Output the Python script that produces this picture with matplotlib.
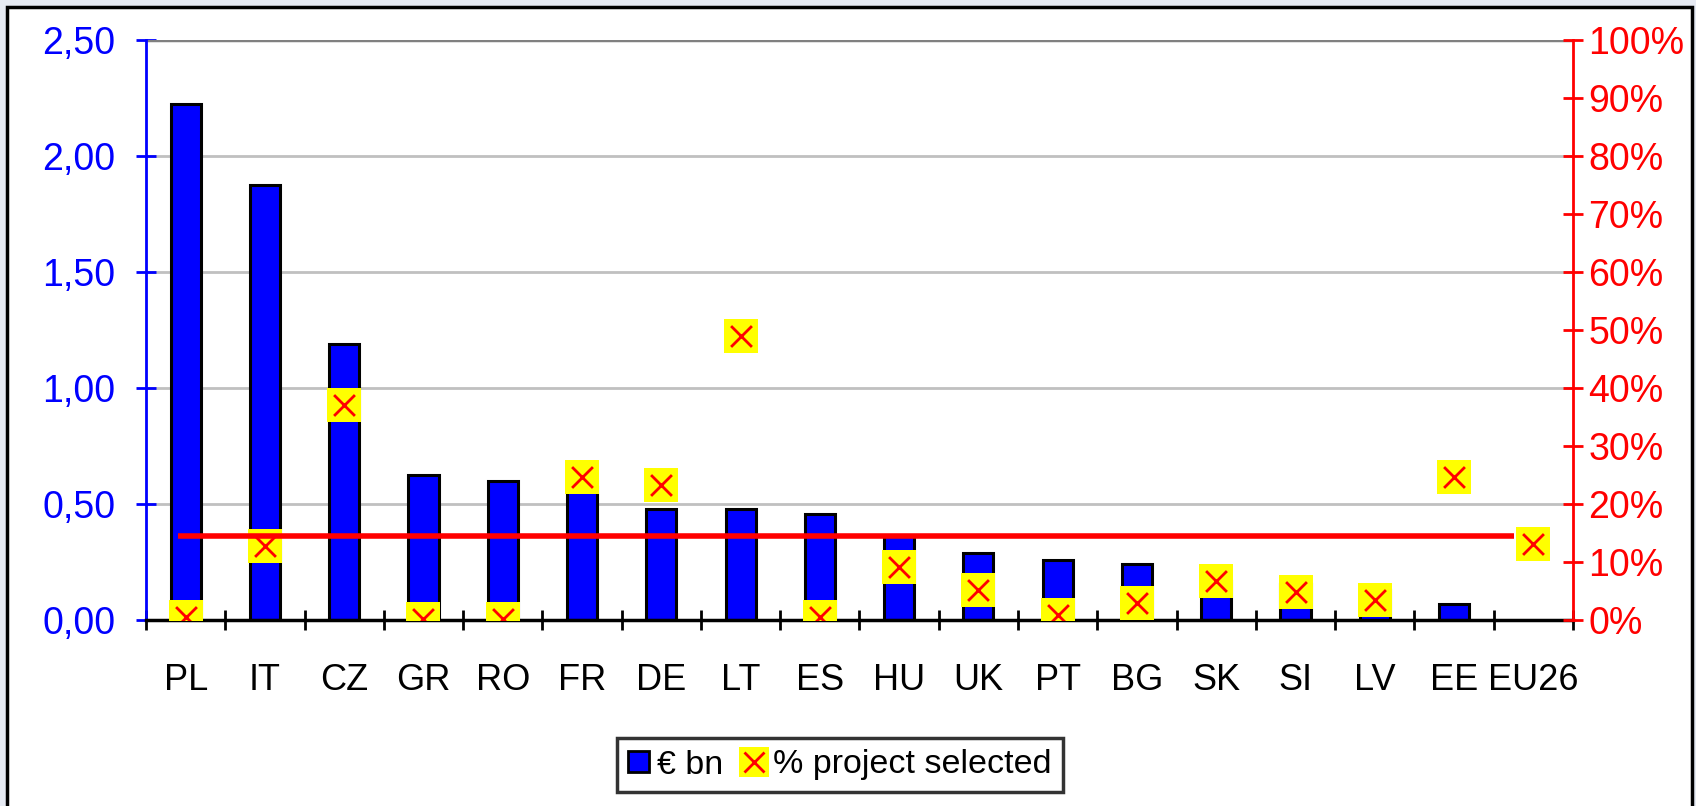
import numpy as np
import matplotlib
matplotlib.use("Agg")
import matplotlib.pyplot as plt
from matplotlib.patches import Rectangle
from matplotlib.legend_handler import HandlerTuple
from matplotlib.lines import Line2D
from matplotlib.ticker import FuncFormatter, MultipleLocator

plt.rcParams['font.family'] = ['Liberation Sans', 'DejaVu Sans']

countries = ['PL', 'IT', 'CZ', 'GR', 'RO', 'FR', 'DE', 'LT', 'ES', 'HU',
             'UK', 'PT', 'BG', 'SK', 'SI', 'LV', 'EE', 'EU26']
eur_bn = [2.225, 1.875, 1.19, 0.625, 0.60, 0.575, 0.48, 0.48, 0.455, 0.36,
          0.29, 0.26, 0.24, 0.17, 0.155, 0.13, 0.07, np.nan]
pct_selected = [0.5, 12.7, 37.0, 0.2, 0.2, 24.6, 23.3, 48.9, 0.6, 9.1,
                5.2, 0.9, 3.0, 6.7, 4.9, 3.4, 24.6, 13.1]
eu_average = 14.4  # red reference line, % axis

x = np.arange(len(countries))

fig = plt.figure(figsize=(16.96, 8.06), dpi=100, facecolor='#E6EAF3')
frame = Rectangle((7 / 1696, -0.05), 1685 / 1696, 1 - 7 / 806 + 0.05,
                  transform=fig.transFigure, facecolor='white',
                  edgecolor='black', linewidth=2.5, zorder=-10)
fig.patches.append(frame)

ax = fig.add_axes([146 / 1696, 1 - 620 / 806, 1427 / 1696, 580 / 806])
ax.set_facecolor('white')
ax2 = ax.twinx()

ax.bar(x, eur_bn, width=0.38, color='#0000FF', edgecolor='black', linewidth=2.2, zorder=3)
ax.set_ylim(0, 2.5)
ax.set_xlim(-0.5, len(countries) - 0.5)
ax.yaxis.set_major_locator(MultipleLocator(0.5))
ax.yaxis.set_major_formatter(FuncFormatter(lambda v, p: f"{v:.2f}".replace('.', ',')))
ax.grid(axis='y', color='#C0C0C0', linewidth=2, zorder=0)
ax.set_axisbelow(True)

ax.set_xticks(x)
ax.set_xticklabels(countries)
ax.set_xticks(np.arange(len(countries) + 1) - 0.5, minor=True)
ax.tick_params(axis='x', which='major', length=0, pad=31, labelsize=26, colors='black')
ax.tick_params(axis='x', which='minor', direction='inout', length=15, width=2, color='black')
ax.tick_params(axis='y', direction='inout', length=14, width=2, colors='#0000FF',
               labelsize=27, pad=15)

ax.spines['top'].set_visible(False)
ax.spines['right'].set_visible(False)
ax.spines['left'].set_color('#0000FF')
ax.spines['left'].set_linewidth(2)
ax.spines['bottom'].set_linewidth(2.5)
ax.spines['bottom'].set_zorder(4)

ax2.set_ylim(0, 100)
ax2.yaxis.set_major_locator(MultipleLocator(10))
ax2.yaxis.set_major_formatter(FuncFormatter(lambda v, p: f"{v:.0f}%"))
ax2.tick_params(axis='y', direction='inout', length=14, width=2, colors='#FF0000',
                labelsize=27, pad=4)
for s in ['top', 'left', 'bottom']:
    ax2.spines[s].set_visible(False)
ax2.spines['right'].set_color('#FF0000')
ax2.spines['right'].set_linewidth(2)

# top gridline darker
ax.axhline(2.5, color='#808080', linewidth=2.5, zorder=1)

ax2.scatter(x, pct_selected, marker='s', s=24 ** 2, color='#FFFF00', zorder=3, linewidths=0)
ax2.scatter(x, pct_selected, marker='x', s=15 ** 2, color='#FF0000', linewidths=2, zorder=4)
ax2.hlines(eu_average, -0.1, len(countries) - 1.25, color='#FF0000', linewidth=4, zorder=5)

bar_handle = Rectangle((0, 0), 1, 1, facecolor='#0000FF', edgecolor='black', linewidth=2)
sq = Line2D([], [], marker='s', markersize=22, color='#FFFF00', linestyle='none', markeredgewidth=0)
xm = Line2D([], [], marker='x', markersize=14, color='#FF0000', linestyle='none', markeredgewidth=2)
leg = fig.legend([bar_handle, (sq, xm)], ['€ bn', '% project selected'],
                 handler_map={tuple: HandlerTuple(ndivide=1)},
                 loc='center', bbox_to_anchor=(840 / 1696, 1 - 765 / 806), ncol=2,
                 fontsize=24.5, frameon=True, fancybox=False, edgecolor='black',
                 handlelength=0.6, handleheight=0.6, handletextpad=0.25, columnspacing=0.6,
                 borderpad=0.35)
leg.get_frame().set_linewidth(2.5)

fig.savefig('out.png', dpi=100, facecolor=fig.get_facecolor())
